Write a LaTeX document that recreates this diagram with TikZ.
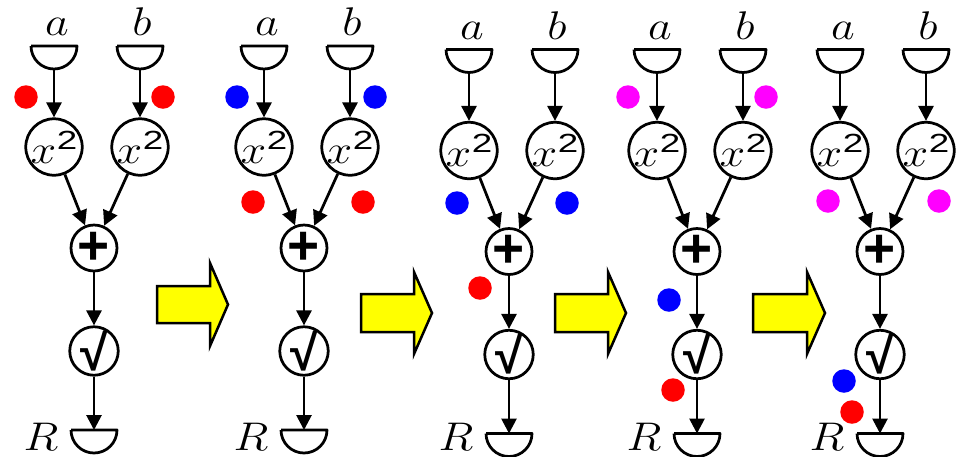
\documentclass[tikz,border=0pt]{standalone}
\usepackage{fix-cm}
\usepackage{fontspec}
\usepackage{graphicx}
\usetikzlibrary{arrows.meta}
\newfontfamily\symfont{Liberation Sans}

\definecolor{tokred}{RGB}{255,0,0}
\definecolor{tokblue}{RGB}{0,0,255}
\definecolor{tokmag}{RGB}{255,0,255}
\definecolor{stepyellow}{RGB}{255,255,0}

% operator glyphs and labels
\newcommand\plusglyph{{\symfont\bfseries\fontsize{22}{22}\selectfont +}}
\newcommand\rootglyph{{\symfont\bfseries\fontsize{20}{20}\selectfont √}}
\newcommand\sqlabel{\scalebox{1.15}[1]{$x$}\kern0.2pt\raisebox{5.6pt}{\scalebox{1.4}[1]{\fontsize{10.5}{11}\selectfont\symfont 2}}}
\newcommand\varlabel[1]{\scalebox{1.15}[1]{$#1$}}

\tikzset{
  op/.style={circle, draw, line width=1.1pt, minimum size=18.4pt, inner sep=0pt, fill=white},
  port/.style={circle, minimum size=18.4pt, inner sep=0pt, outer sep=0pt},
  portline/.style={line width=1.1pt, line join=round},
  conn/.style={line width=1.1pt, -{Triangle[length=6pt,width=6pt]}},
  token/.style={circle, inner sep=0pt, minimum size=9.4pt},
  blockarrow/.style={fill=stepyellow, draw=black, line width=1pt, line join=miter},
  var/.style={inner sep=0pt, anchor=base},
}

% one copy of the dataflow graph; #1 name prefix, #2 x of the sum node, #3 downward shift
\newcommand\flowpanel[3]{%
  \begin{scope}[shift={(#2,-#3)}]
    \node[var] (#1la) at (-37,420.5) {\varlabel{a}};
    \node[var] (#1lb) at (48,420.5) {\varlabel{b}};
    \node[port] (#1ia) at (-40,410) {};
    \node[port] (#1ib) at (46,410) {};
    \node[op] (#1sa) at (-40,309) {\sqlabel};
    \node[op] (#1sb) at (46,309) {\sqlabel};
    \node[op] (#1p) at (0,208) {\plusglyph};
    \node[op] (#1q) at (0,105) {\rootglyph};
    \node[port] (#1r) at (0,26) {};
    \node[var] (#1lr) at (-53,6+#3) {\varlabel{R}};
    \draw[portline] (#1ia.west) -- (#1ia.east) arc[start angle=0, end angle=-180, radius=9.2pt];
    \draw[portline] (#1ib.west) -- (#1ib.east) arc[start angle=0, end angle=-180, radius=9.2pt];
    \draw[portline] (#1r.west) -- (#1r.east) arc[start angle=0, end angle=-180, radius=9.2pt];
    \draw[conn] (#1ia.south) -- (#1sa);
    \draw[conn] (#1ib.south) -- (#1sb);
    \draw[conn] (#1sa) -- (#1p);
    \draw[conn] (#1sb) -- (#1p);
    \draw[conn] (#1p) -- (#1q);
    \draw[conn] (#1q) -- (#1r.center);
  \end{scope}}

\begin{document}
\begin{tikzpicture}[x=0.4pt, y=0.4pt, font=\fontsize{16}{19}\selectfont]
  \useasboundingbox (0,0) rectangle (959,456);

  \flowpanel{A}{94}{0}
  \flowpanel{B}{304}{0}
  \flowpanel{C}{509}{3.5}
  \flowpanel{D}{697}{3.5}
  \flowpanel{E}{880}{3.5}

  % yellow step arrows between the stages
  \draw[blockarrow] (157,170) -- (210,170) -- (210,193) -- (228,151.5) -- (210,110) -- (210,133) -- (157,133) -- cycle;
  \draw[blockarrow] (361,162) -- (414,162) -- (414,184) -- (432,143) -- (414,102) -- (414,124) -- (361,124) -- cycle;
  \draw[blockarrow] (555,162) -- (608,162) -- (608,184) -- (626,143) -- (608,102) -- (608,124) -- (555,124) -- cycle;
  \draw[blockarrow] (753,162) -- (807,162) -- (807,184) -- (825,143) -- (807,102) -- (807,124) -- (753,124) -- cycle;

  % tokens travelling through the graph
  \node[token, fill=tokred] (a1) at (26,359) {};
  \node[token, fill=tokred] (b1) at (163,359) {};

  \node[token, fill=tokblue] (a2) at (237,359) {};
  \node[token, fill=tokblue] (b2) at (375,359) {};
  \node[token, fill=tokred] (c2) at (253,254) {};
  \node[token, fill=tokred] (d2) at (363,254) {};

  \node[token, fill=tokblue] (c3) at (457,253) {};
  \node[token, fill=tokblue] (d3) at (567,253) {};
  \node[token, fill=tokred] (e3) at (480,168) {};

  \node[token, fill=tokmag] (a4) at (628,359) {};
  \node[token, fill=tokmag] (b4) at (766,359) {};
  \node[token, fill=tokblue] (e4) at (669,156) {};
  \node[token, fill=tokred] (f4) at (673,66) {};

  \node[token, fill=tokmag] (c5) at (828,255) {};
  \node[token, fill=tokmag] (d5) at (939,255) {};
  \node[token, fill=tokblue] (f5) at (844,75) {};
  \node[token, fill=tokred] (g5) at (852,44) {};
\end{tikzpicture}
\end{document}
